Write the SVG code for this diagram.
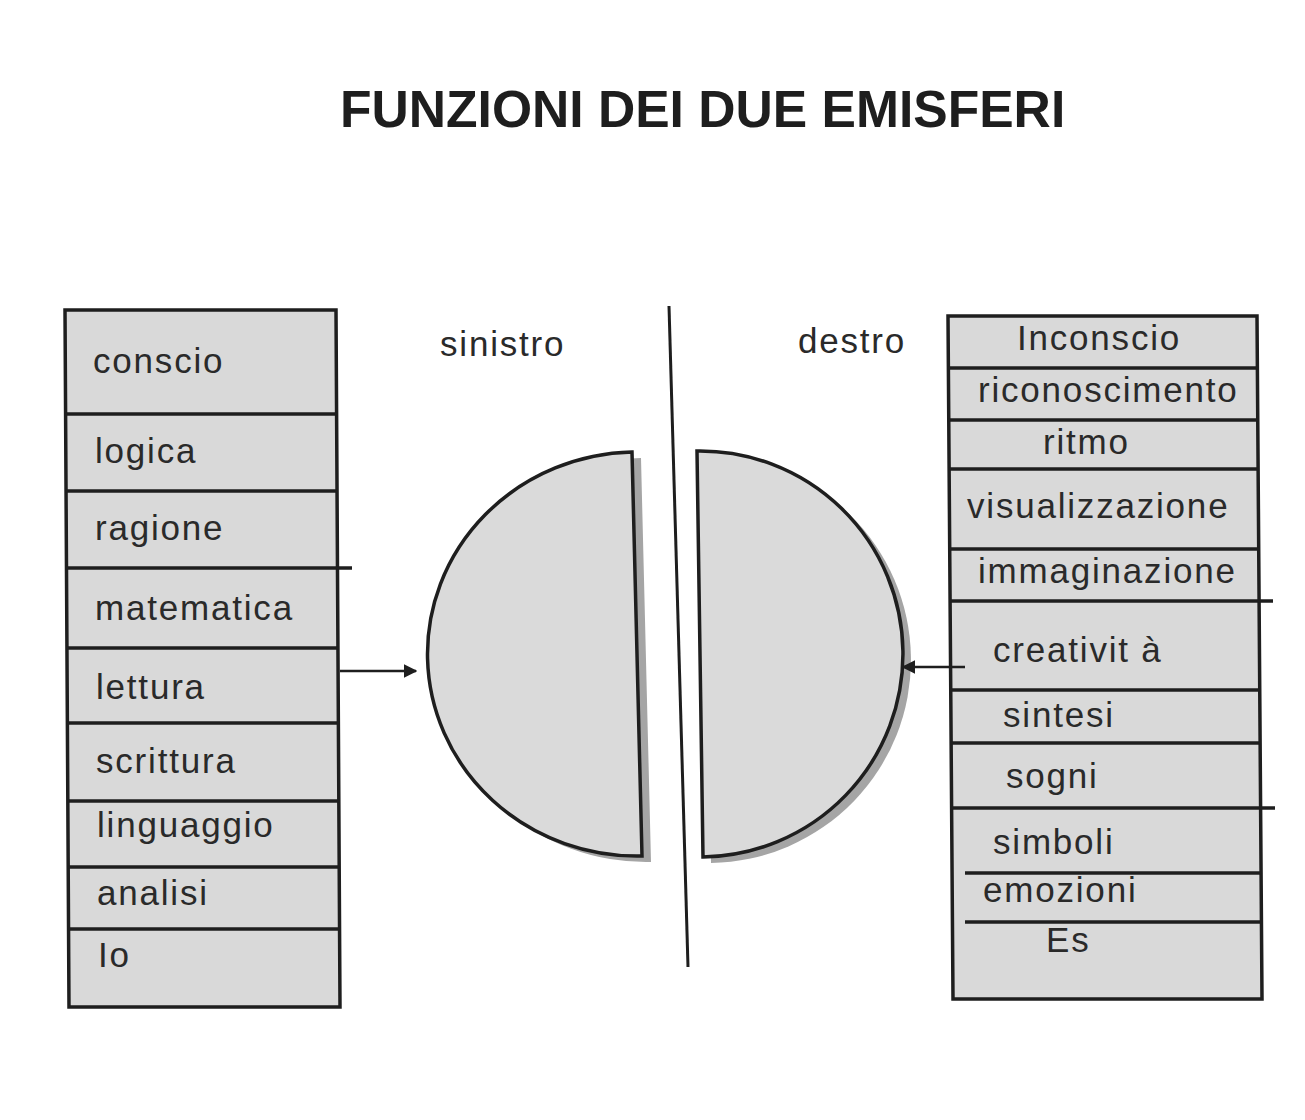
<svg xmlns="http://www.w3.org/2000/svg" width="1305" height="1120" viewBox="0 0 1305 1120">
<defs>
<style>
.bg{fill:#ffffff}
.cell{fill:#d9d9d9;stroke:none}
.frame{fill:none;stroke:#1e1e1e;stroke-width:3.5}
.div{stroke:#1e1e1e;stroke-width:3.5}
.lbl{font-family:"Liberation Sans",Arial,sans-serif;font-size:35px;letter-spacing:1.8px;fill:#2a2a2a}
.title{font-family:"Liberation Sans",Arial,sans-serif;font-size:51.6px;font-weight:bold;fill:#1e1e1e}
.hemi{fill:#dadada;stroke:#1e1e1e;stroke-width:3.5;stroke-linejoin:miter}
.shadow{fill:#a5a5a5;stroke:none}
.conn{stroke:#1e1e1e;stroke-width:2.5;fill:none}
</style>
<marker id="ah" viewBox="0 0 10 10" refX="9" refY="5" markerWidth="5.5" markerHeight="5.5" orient="auto-start-reverse" markerUnits="strokeWidth">
<path d="M0,0 L10,5 L0,10 Z" fill="#1e1e1e"/>
</marker>
</defs>
<rect class="bg" x="0" y="0" width="1305" height="1120"/>

<text class="title" x="340" y="127">FUNZIONI DEI DUE EMISFERI</text>

<!-- Left column -->
<g id="left-column">
<g id="n-conscio"><rect class="cell" x="66" y="310" width="271" height="104"/><text class="lbl" x="93" y="373">conscio</text></g>
<g id="n-logica"><rect class="cell" x="66" y="414" width="271" height="77"/><text class="lbl" x="95" y="463">logica</text></g>
<g id="n-ragione"><rect class="cell" x="67" y="491" width="271" height="77"/><text class="lbl" x="95" y="540">ragione</text></g>
<g id="n-matematica"><rect class="cell" x="67" y="568" width="271" height="80"/><text class="lbl" x="95" y="620">matematica</text></g>
<g id="n-lettura"><rect class="cell" x="68" y="648" width="271" height="75"/><text class="lbl" x="96" y="699">lettura</text></g>
<g id="n-scrittura"><rect class="cell" x="68" y="723" width="271" height="78"/><text class="lbl" x="96" y="773">scrittura</text></g>
<g id="n-linguaggio"><rect class="cell" x="69" y="801" width="271" height="66"/><text class="lbl" x="97" y="837">linguaggio</text></g>
<g id="n-analisi"><rect class="cell" x="69" y="867" width="271" height="62"/><text class="lbl" x="97" y="905">analisi</text></g>
<g id="n-io"><rect class="cell" x="70" y="929" width="271" height="78"/><text class="lbl" x="98" y="967">Io</text></g>
<g id="left-frame">
<path class="frame" d="M65,310 L336,310 L340,1007 L69,1007 Z"/>
<line class="div" x1="66" y1="414" x2="337" y2="414"/>
<line class="div" x1="66" y1="491" x2="337" y2="491"/>
<line class="div" x1="67" y1="568" x2="352" y2="568"/>
<line class="div" x1="67" y1="648" x2="338" y2="648"/>
<line class="div" x1="68" y1="723" x2="338" y2="723"/>
<line class="div" x1="68" y1="801" x2="339" y2="801"/>
<line class="div" x1="68" y1="867" x2="339" y2="867"/>
<line class="div" x1="69" y1="929" x2="339" y2="929"/>
</g>
</g>

<!-- Right column -->
<g id="right-column">
<g id="n-inconscio"><rect class="cell" x="948" y="316" width="309" height="52"/><text class="lbl" x="1017" y="350">Inconscio</text></g>
<g id="n-riconoscimento"><rect class="cell" x="948" y="368" width="310" height="52"/><text class="lbl" x="978" y="402">riconoscimento</text></g>
<g id="n-ritmo"><rect class="cell" x="949" y="420" width="310" height="49"/><text class="lbl" x="1043" y="454">ritmo</text></g>
<g id="n-visualizzazione"><rect class="cell" x="949" y="469" width="310" height="80"/><text class="lbl" x="967" y="518">visualizzazione</text></g>
<g id="n-immaginazione"><rect class="cell" x="950" y="549" width="310" height="52"/><text class="lbl" x="978" y="583">immaginazione</text></g>
<g id="n-creativita"><rect class="cell" x="950" y="601" width="310" height="89"/><text class="lbl" x="993" y="662">creativit à</text></g>
<g id="n-sintesi"><rect class="cell" x="951" y="690" width="310" height="53"/><text class="lbl" x="1003" y="727">sintesi</text></g>
<g id="n-sogni"><rect class="cell" x="951" y="743" width="310" height="65"/><text class="lbl" x="1006" y="788">sogni</text></g>
<g id="n-simboli"><rect class="cell" x="952" y="808" width="310" height="65"/><text class="lbl" x="993" y="854">simboli</text></g>
<g id="n-emozioni"><rect class="cell" x="952" y="873" width="310" height="49"/><text class="lbl" x="983" y="902">emozioni</text></g>
<g id="n-es"><rect class="cell" x="953" y="922" width="310" height="77"/><text class="lbl" x="1046" y="952">Es</text></g>
<g id="right-frame">
<path class="frame" d="M948,316 L1257,316 L1262,999 L953,999 Z"/>
<line class="div" x1="948" y1="368" x2="1257" y2="368"/>
<line class="div" x1="948" y1="420" x2="1258" y2="420"/>
<line class="div" x1="949" y1="469" x2="1258" y2="469"/>
<line class="div" x1="949" y1="549" x2="1259" y2="549"/>
<line class="div" x1="950" y1="601" x2="1273" y2="601"/>
<line class="div" x1="950" y1="690" x2="1260" y2="690"/>
<line class="div" x1="951" y1="743" x2="1260" y2="743"/>
<line class="div" x1="951" y1="808" x2="1275" y2="808"/>
<line class="div" x1="965" y1="873" x2="1261" y2="873"/>
<line class="div" x1="965" y1="922" x2="1261" y2="922"/>
</g>
</g>

<!-- Labels -->
<text class="lbl" x="440" y="356">sinistro</text>
<text class="lbl" x="798" y="353">destro</text>

<!-- Divider -->
<line x1="669" y1="306" x2="688" y2="967" stroke="#1e1e1e" stroke-width="3"/>

<!-- Left hemisphere -->
<g id="hemisphere-left">
<path class="shadow" d="M632,452 L642,856 A 197 190 0 0 1 632,452 Z" transform="translate(9,6)"/>
<path class="hemi" d="M632,452 L642,856 A 197 190 0 0 1 632,452 Z"/>
</g>

<!-- Right hemisphere -->
<g id="hemisphere-right">
<path class="shadow" d="M697,451 L703,857 A 190 190 0 0 0 697,451 Z" transform="translate(8,6)"/>
<path class="hemi" d="M697,451 L703,857 A 190 190 0 0 0 697,451 Z"/>
</g>

<!-- Connectors -->
<g id="connectors">
<line class="conn" x1="340" y1="671" x2="416" y2="671" marker-end="url(#ah)"/>
<line class="conn" x1="965" y1="667" x2="903" y2="667" marker-end="url(#ah)"/>
</g>
</svg>
